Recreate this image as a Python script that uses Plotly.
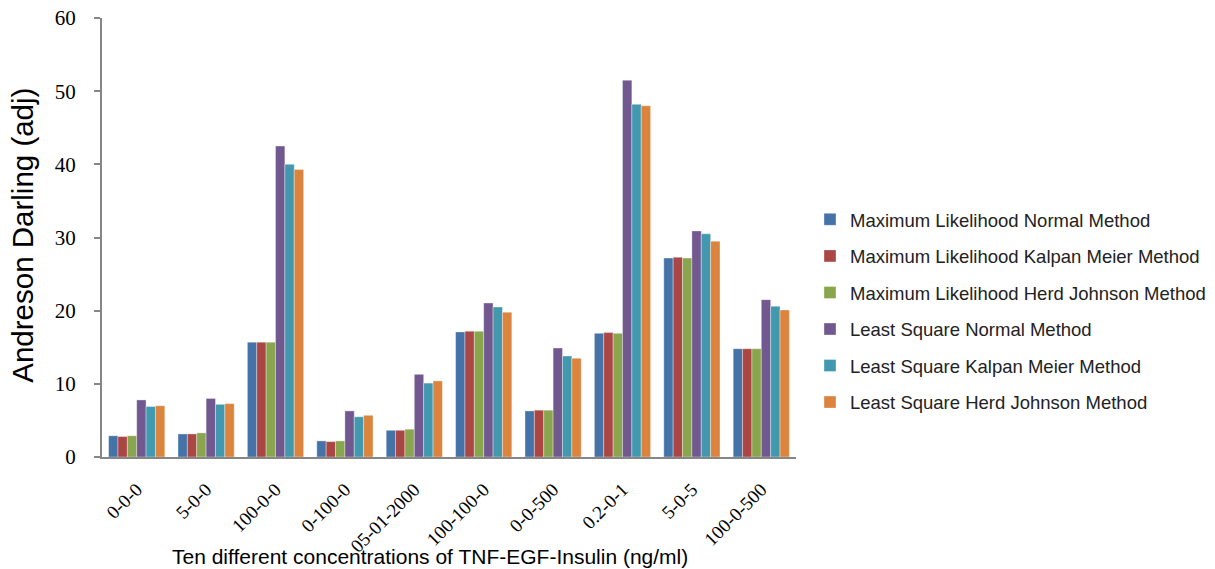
import plotly.graph_objects as go

concentrations = ["0-0-0", "5-0-0", "100-0-0", "0-100-0", "05-01-2000",
                  "100-100-0", "0-0-500", "0.2-0-1", "5-0-5", "100-0-500"]

ml_normal = [2.9, 3.15, 15.7, 2.2, 3.65, 17.1, 6.3, 16.9, 27.2, 14.8]
ml_kaplan = [2.8, 3.15, 15.7, 2.1, 3.65, 17.2, 6.4, 17.0, 27.3, 14.8]
ml_herd = [2.9, 3.3, 15.7, 2.2, 3.8, 17.2, 6.4, 16.9, 27.2, 14.8]
ls_normal = [7.8, 8.0, 42.5, 6.3, 11.3, 21.05, 14.9, 51.5, 30.9, 21.5]
ls_kaplan = [6.9, 7.2, 40.0, 5.5, 10.1, 20.5, 13.8, 48.2, 30.5, 20.6]
ls_herd = [7.0, 7.3, 39.3, 5.7, 10.4, 19.8, 13.5, 48.0, 29.5, 20.1]

series = [
    ("Maximum Likelihood Normal Method", ml_normal, "#4572A7"),
    ("Maximum Likelihood Kalpan Meier Method", ml_kaplan, "#AA4643"),
    ("Maximum Likelihood Herd Johnson Method", ml_herd, "#89A54E"),
    ("Least Square Normal Method", ls_normal, "#71588F"),
    ("Least Square Kalpan Meier Method", ls_kaplan, "#4198AF"),
    ("Least Square Herd Johnson Method", ls_herd, "#DB843D"),
]

fig = go.Figure()
for i, (name, vals, color) in enumerate(series):
    fig.add_trace(go.Bar(
        x=concentrations, y=vals, name=name,
        marker=dict(color=color, line=dict(color="rgba(255,255,255,0.6)", width=0.6)),
        legendgroup=f"g{i}",
    ))

plot_left, plot_width = 102, 694

fig.update_layout(
    width=1215, height=569,
    margin=dict(l=plot_left, r=1215 - plot_left - plot_width, t=18, b=112, autoexpand=False),
    paper_bgcolor="white", plot_bgcolor="white",
    barmode="group", bargap=0.19, bargroupgap=0,
    showlegend=True,
    legend=dict(
        x=(810 - plot_left) / plot_width, xanchor="left", y=0.333, yanchor="middle",
        font=dict(family="Liberation Sans, Arial", size=18.5, color="#222"),
        tracegroupgap=9.5, itemwidth=30,
        bgcolor="rgba(0,0,0,0)",
    ),
    xaxis=dict(
        showline=True, linecolor="#868686", linewidth=2,
        tickangle=-45, ticks="", ticklabelstandoff=12, automargin=False,
        tickfont=dict(family="Liberation Serif, Times New Roman", size=19, color="#000"),
        showgrid=False, zeroline=False,
    ),
    yaxis=dict(
        range=[0, 60], dtick=10, automargin=False,
        showline=True, linecolor="#868686", linewidth=2,
        ticks="outside", ticklen=6, tickcolor="#868686", tickwidth=2,
        ticklabelstandoff=14,
        tickfont=dict(family="Liberation Serif, Times New Roman", size=21, color="#000"),
        showgrid=False, zeroline=False,
    ),
    annotations=[
        dict(
            text="Ten different concentrations of TNF-EGF-Insulin (ng/ml)",
            xref="paper", yref="paper", x=(430 - plot_left) / plot_width, y=0, yshift=-99,
            xanchor="center", yanchor="middle", showarrow=False,
            font=dict(family="Liberation Sans, Arial", size=21, color="#000"),
        ),
        dict(
            text="Andreson Darling (adj)", textangle=-90,
            xref="paper", yref="paper", x=(23 - plot_left) / plot_width, y=0.504,
            xanchor="center", yanchor="middle", showarrow=False,
            font=dict(family="Liberation Sans, Arial", size=29.5, color="#000"),
        ),
    ],
)

fig.write_html("out.html")
